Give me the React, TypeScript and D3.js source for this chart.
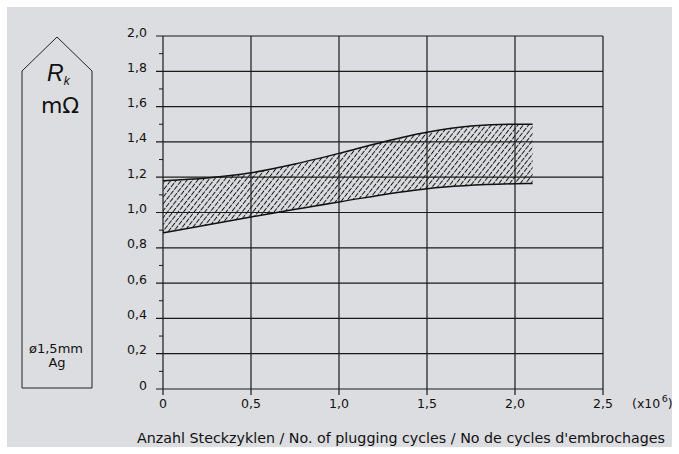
import React from "react";
import * as d3 from "d3";

// band of contact resistance vs. plugging cycles (x10^6)
const cyclesUpper = [0, 0.25, 0.5, 0.75, 1.0, 1.25, 1.5, 1.75, 2.0, 2.1];
const resUpper = [1.18, 1.195, 1.225, 1.275, 1.335, 1.4, 1.455, 1.49, 1.5, 1.5];
const cyclesLower = [0, 0.5, 1.0, 1.5, 2.0, 2.1];
const resLower = [0.885, 0.975, 1.06, 1.135, 1.163, 1.165];

const yTicks = [0, 0.2, 0.4, 0.6, 0.8, 1.0, 1.2, 1.4, 1.6, 1.8, 2.0];
const xTicks = [0, 0.5, 1.0, 1.5, 2.0, 2.5];
const xTitle = "Anzahl Steckzyklen / No. of plugging cycles / No de cycles d'embrochages";

const W = 679;
const H = 454;
const font = "'Liberation Sans', Arial, sans-serif";
const wide = "'DejaVu Sans', sans-serif";
const fmt = (v: number) => (v === 0 ? "0" : d3.format(".1f")(v).replace(".", ","));

export default function App() {
  const x = d3.scaleLinear().domain([0, 2.5]).range([163, 603]);
  const y = d3.scaleLinear().domain([0, 2.0]).range([389, 36]);

  const upperPts: [number, number][] = cyclesUpper.map((c, i) => [c, resUpper[i]]);
  const lowerPts: [number, number][] = cyclesLower.map((c, i) => [c, resLower[i]]);

  const line = d3
    .line<[number, number]>()
    .x((d) => x(d[0]))
    .y((d) => y(d[1]))
    .curve(d3.curveMonotoneX);

  const upperPath = line(upperPts) || "";
  const lowerPath = line(lowerPts) || "";
  // closed band: upper left->right, lower right->left
  const lowerRev = line([...lowerPts].reverse()) || "";
  const bandPath = upperPath + "L" + lowerRev.slice(1) + "Z";

  const minor = d3.range(0.1, 2.0, 0.2);

  return (
    <svg
      width={W}
      height={H}
      style={{ position: "absolute", left: 0, top: 0, background: "#fff" }}
      fontFamily={font}
    >
      <defs>
        <pattern
          id="hatch"
          patternUnits="userSpaceOnUse"
          width={4.2}
          height={6.2}
          patternTransform="rotate(38)"
        >
          <line x1={2.1} y1={0} x2={2.1} y2={6.2} stroke="#111" strokeWidth={1} strokeDasharray="5 1.2" />
        </pattern>
        <clipPath id="plotClip">
          <rect x={163} y={36} width={440} height={353} />
        </clipPath>
      </defs>

      <rect x={7} y={7} width={665} height={440} fill="#dcdde0" />

      {/* left label box */}
      <path d="M22,71 L57,37 L92,71 L92,388 L22,388 Z" fill="none" stroke="#222" strokeWidth={1} />
      <text x={47} y={81} fontSize={23} fontStyle="italic" fill="#111">
        R
        <tspan fontSize={12} dy={4}>k</tspan>
      </text>
      <text x={60} y={113} fontSize={22} fontFamily={wide} textAnchor="middle" fill="#111">
        mΩ
      </text>
      <text x={56} y={353} fontSize={13} fontFamily={wide} textAnchor="middle" fill="#111">
        ø1,5mm
      </text>
      <text x={57} y={367} fontSize={13} fontFamily={wide} textAnchor="middle" fill="#111">
        Ag
      </text>

      {/* band */}
      <path d={bandPath} fill="url(#hatch)" clipPath="url(#plotClip)" />

      {/* horizontal grid */}
      {yTicks.map((t) => (
        <g key={"y" + t}>
          <line x1={156} x2={603} y1={y(t)} y2={y(t)} stroke="#1a1a1a" strokeWidth={1.2} />
          <text x={147} y={y(t) + 0.5} fontSize={12.5} fontFamily={wide} textAnchor="end" fill="#111">
            {fmt(t)}
          </text>
        </g>
      ))}
      {minor.map((t) => (
        <line key={"m" + t} x1={159} x2={163} y1={y(t)} y2={y(t)} stroke="#1a1a1a" strokeWidth={1} />
      ))}

      {/* vertical grid */}
      {xTicks.map((t) => (
        <g key={"x" + t}>
          <line x1={x(t)} x2={x(t)} y1={36} y2={395} stroke="#1a1a1a" strokeWidth={1.2} />
          <text x={x(t)} y={408} fontSize={12.5} fontFamily={wide} textAnchor="middle" fill="#111">
            {fmt(t)}
          </text>
        </g>
      ))}
      <text x={632} y={408} fontSize={12.5} fontFamily={wide} fill="#111">
        (x10
        <tspan fontSize={9.5} dx={1.5} dy={-6}>6</tspan>
        <tspan dy={6}>)</tspan>
      </text>

      {/* band outlines */}
      <path d={upperPath} fill="none" stroke="#111" strokeWidth={1.5} />
      <path d={lowerPath} fill="none" stroke="#111" strokeWidth={1.5} />

      <text x={401} y={443} fontSize={13.5} fontFamily={wide} textAnchor="middle" fill="#111"
        textLength={528} lengthAdjust="spacingAndGlyphs">
        {xTitle}
      </text>
    </svg>
  );
}
